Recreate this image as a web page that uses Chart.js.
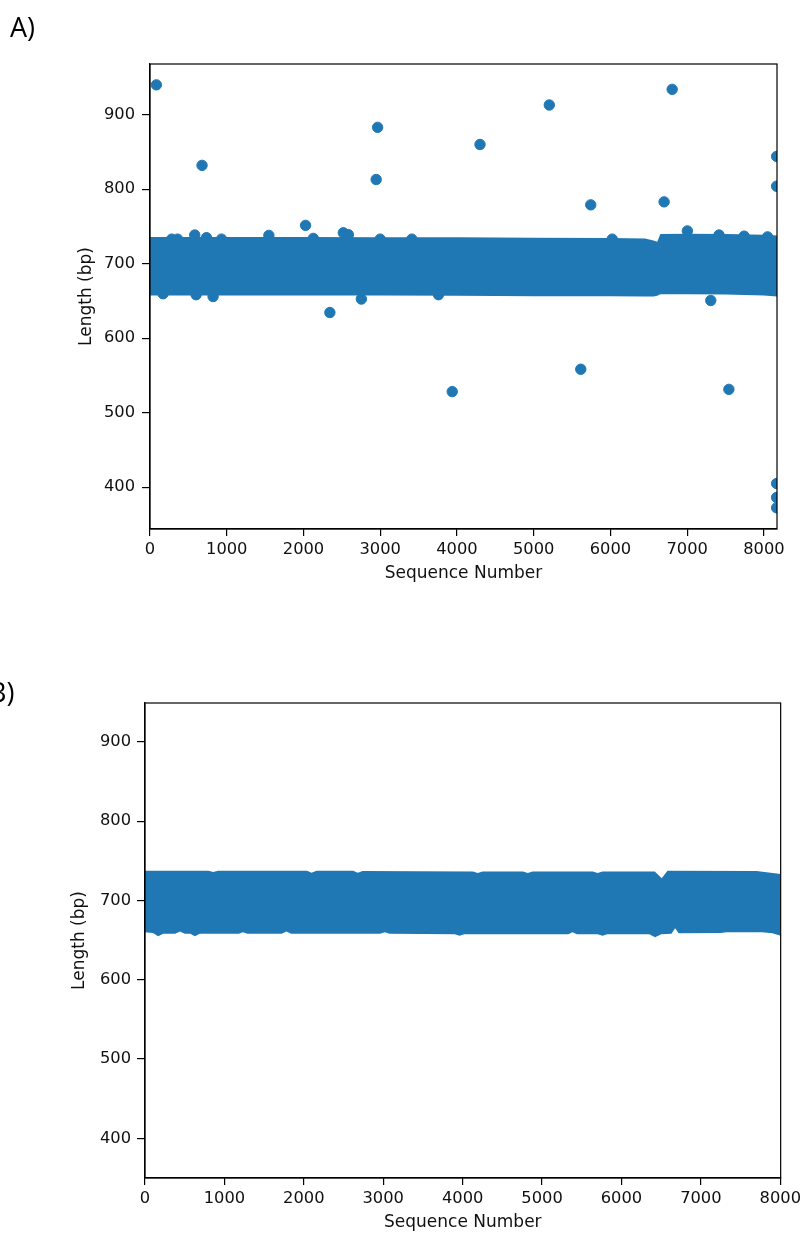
<!DOCTYPE html>
<html><head><meta charset="utf-8">
<script src="https://cdn.jsdelivr.net/npm/chart.js@4/dist/chart.umd.min.js"></script>
<style>
html,body{margin:0;padding:0;background:#fff;width:805px;height:1234px;overflow:hidden;position:relative}
canvas{position:absolute;left:0}
.lbl{position:absolute;font-family:"Open Sans",sans-serif;font-size:27px;line-height:27px;color:#000;white-space:nowrap}
</style></head><body>
<canvas id="cA" width="805" height="617" style="top:0"></canvas>
<canvas id="cB" width="805" height="617" style="top:617px"></canvas>
<div class="lbl" style="left:10px;top:13px">A)</div>
<div class="lbl" style="left:-11px;top:678px">B)</div>
<script>
// ---------- tick labels ----------
const xTicks = [0, 1000, 2000, 3000, 4000, 5000, 6000, 7000, 8000];
const yTicks = [400, 500, 600, 700, 800, 900];

// ---------- Panel A: individual points (outliers + edge points) ----------
const seqA = [83, 678, 2966, 2947, 4300, 5203, 6804, 5743, 6699, 8165, 8165, 2027, 2344, 3938, 5613, 7543, 8165, 8165, 8165,
  283, 359, 583, 736, 932, 1549, 2128, 2519, 2585, 2999, 3412, 6023, 7002, 7415, 7742, 8047,
  170, 601, 822, 2754, 3759, 7307];
const lenA = [940, 832, 883, 813, 860, 913, 934, 779, 783, 844, 804, 751.5, 634.5, 528.4, 558.4, 531.4, 405, 386.3, 372.4,
  733, 733, 738.5, 735, 733, 738, 734, 741.5, 739, 733, 733, 733, 744, 738.5, 737, 736,
  659.7, 658.4, 656, 652.6, 658.4, 650.7];

// ---------- Panel A: dense band envelope ----------
const bandXA      = [0, 1000, 2000, 3000, 4000, 5000, 6000, 6450, 6560, 6610, 6650, 7000, 7500, 8000, 8170];
const bandTopA    = [735.7, 735.7, 735.7, 735.5, 735.5, 735, 734.5, 734, 731, 729.5, 740, 740.2, 740, 739, 738];
const bandBottomA = [657.5, 657.5, 657.5, 657.5, 657, 656.5, 656.5, 656, 656, 657, 659, 659, 658.8, 657.5, 656];

// ---------- Panel B: dense band envelope ----------
const bandTopXB = [0, 800, 858, 920, 2040, 2097, 2160, 2620, 2680, 2740, 4130, 4190, 4250, 4760, 4820, 4880, 5640, 5700, 5760, 6420, 6507, 6580, 7700, 8005];
const bandTopB  = [737.5, 737.5, 736, 737.5, 737.5, 735, 737.5, 737.5, 735, 737, 736.5, 734.5, 736.5, 736.5, 734.5, 736.5, 736.5, 734.5, 736.5, 736.5, 728, 737.5, 737, 733.5];
const bandBotXB = [0, 100, 165, 230, 380, 440, 500, 570, 629, 690, 1180, 1233, 1290, 1720, 1782, 1840, 2960, 3019, 3080, 3900, 3962, 4020, 5330, 5384, 5440, 5700, 5761, 5820, 6350, 6424, 6500, 6630, 6676, 6720, 7250, 7320, 7770, 7900, 8005];
const bandBotB  = [660, 659, 655, 658, 658, 661, 658, 658, 655, 658, 658, 660, 658, 658, 661, 658, 658, 660, 658, 657.5, 655.5, 657.5, 657.5, 660, 657.5, 657.5, 655.5, 657.5, 657.5, 653.5, 657.5, 658, 665, 658.5, 659, 660, 660, 658.5, 655.5];

const C0 = '#1f77b4';
const pts = (xs, ys) => xs.map((x, i) => ({x: x, y: ys[i]}));

const frame = {
  id: 'frame',
  afterDatasetsDraw(chart) {
    const {ctx, chartArea: a} = chart;
    ctx.save();
    ctx.strokeStyle = '#000';
    ctx.lineWidth = 1.2;
    ctx.strokeRect(a.left, a.top, a.right - a.left, a.bottom - a.top);
    ctx.restore();
  }
};

function build(canvasId, o) {
  const datasets = [
    {data: pts(o.botX, o.bot), showLine: true, pointRadius: 0, borderWidth: 0, fill: false, tension: 0},
    {data: pts(o.topX, o.top), showLine: true, pointRadius: 0, borderWidth: 0, backgroundColor: C0, fill: '-1', tension: 0}
  ];
  if (o.px) {
    datasets.push({data: pts(o.px, o.py), showLine: false, pointRadius: o.r, pointBorderWidth: 1,
      pointBackgroundColor: C0, pointBorderColor: C0});
  }
  const tickFont = {family: 'DejaVu Sans', size: 16.3};
  const titleFont = {family: 'DejaVu Sans', size: 17};
  new Chart(document.getElementById(canvasId), {
    type: 'scatter',
    data: {datasets},
    options: {
      responsive: false, animation: false, devicePixelRatio: 1, events: [],
      layout: {padding: {left: 0, top: o.padTop, right: o.padRight, bottom: 0}},
      plugins: {legend: {display: false}, tooltip: {enabled: false}},
      scales: {
        x: {
          type: 'linear', min: 0, max: o.xmax,
          afterBuildTicks: s => { s.ticks = xTicks.map(v => ({value: v})); },
          afterFit: s => { s.height = o.xH; },
          ticks: {callback: v => String(v), font: tickFont, color: '#111', padding: 4, maxRotation: 0, autoSkip: false},
          grid: {drawOnChartArea: false, drawTicks: true, tickLength: 7, color: '#000', lineWidth: 1.2},
          border: {display: true, color: '#000', width: 1.2},
          title: {display: true, text: 'Sequence Number', font: titleFont, color: '#111', padding: {top: 0, bottom: o.xTitlePad}}
        },
        y: {
          type: 'linear', min: o.ymin, max: o.ymax,
          afterBuildTicks: s => { s.ticks = yTicks.map(v => ({value: v})); },
          afterFit: s => { s.width = o.yW; },
          ticks: {callback: v => String(v), font: tickFont, color: '#111', padding: o.yTickPad, autoSkip: false},
          grid: {drawOnChartArea: false, drawTicks: true, tickLength: 8, color: '#000', lineWidth: 1.2},
          border: {display: true, color: '#000', width: 1.2},
          title: {display: true, text: 'Length (bp)', font: titleFont, color: '#111', padding: {top: o.yTitlePad, bottom: 0}}
        }
      }
    },
    plugins: [frame]
  });
}

build('cA', {
  botX: bandXA, bot: bandBottomA, topX: bandXA, top: bandTopA,
  px: seqA, py: lenA, r: 5.2,
  xmax: 8170, ymin: 344, ymax: 968,
  padTop: 64, padRight: 28, xH: 88, yW: 150,
  xTitlePad: 32.8, yTitlePad: 76.8, yTickPad: 7
});
build('cB', {
  botX: bandBotXB, bot: bandBotB, topX: bandTopXB, top: bandTopB,
  xmax: 8005, ymin: 350, ymax: 949,
  padTop: 86, padRight: 23, xH: 56, yW: 145,
  xTitlePad: 0.8, yTitlePad: 69.8, yTickPad: 6
});
</script>
</body></html>
